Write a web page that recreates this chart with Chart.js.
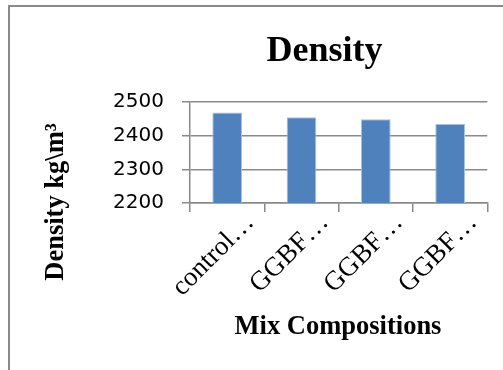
<!DOCTYPE html>
<html>
<head>
<meta charset="utf-8">
<script src="https://cdn.jsdelivr.net/npm/chart.js@4.4.1/dist/chart.umd.min.js"></script>
<style>
  html, body { margin: 0; padding: 0; background: #fff; }
  #wrap { width: 503px; height: 370px; position: relative; }
</style>
</head>
<body>
<div id="wrap"><canvas id="densityChart" width="503" height="370"></canvas></div>
<script>
// data
const mixLabels = ["control…", "GGBF…", "GGBF…", "GGBF…"];
const densityValues = [2469, 2455, 2449, 2435];
const yMin = 2200;
const yMax = 2500;
const yStep = 100;

const chartTitle = "Density";
const yTitle = "Density kg\\m³";
const xTitle = "Mix Compositions";

const gridGray = "#8a8a8a";
const serif = "'Liberation Serif', 'Times New Roman', serif";

// frame + titles drawn at fixed spots like the excel export
const textPlugin = {
    id: "excelText",
    afterDraw(chart) {
        const ctx = chart.ctx;
        ctx.save();
        ctx.strokeStyle = gridGray;
        ctx.lineWidth = 2;
        ctx.beginPath();
        ctx.moveTo(9, 370);
        ctx.lineTo(9, 6);
        ctx.lineTo(503, 6);
        ctx.stroke();

        ctx.fillStyle = "#000";
        ctx.textAlign = "center";
        ctx.textBaseline = "alphabetic";
        ctx.font = "bold 36px " + serif;
        ctx.fillText(chartTitle, 324.5, 61);

        ctx.font = "bold 26.5px " + serif;
        ctx.fillText(xTitle, 338, 334);

        ctx.translate(63, 202);
        ctx.rotate(-Math.PI / 2);
        ctx.fillText(yTitle, 0, 0);
        ctx.restore();
    }
};

new Chart(document.getElementById("densityChart"), {
    type: "bar",
    data: {
        labels: mixLabels,
        datasets: [{
            label: "Density",
            data: densityValues,
            backgroundColor: "#4f81bd",
            borderColor: "#a9c0de",
            borderWidth: 1,
            barPercentage: 0.4,
            categoryPercentage: 1
        }]
    },
    options: {
        responsive: false,
        animation: false,
        layout: {
            padding: { top: 102, right: 15.7, bottom: 0, left: 0 }
        },
        plugins: {
            legend: { display: false },
            title: { display: false },
            tooltip: { enabled: false }
        },
        scales: {
            x: {
                afterFit: (scale) => { scale.height = 167; },
                grid: {
                    drawOnChartArea: false,
                    drawTicks: true,
                    tickLength: 9,
                    color: gridGray,
                    lineWidth: 1.5
                },
                border: { color: gridGray, width: 1.5 },
                ticks: {
                    minRotation: 45,
                    maxRotation: 45,
                    autoSkip: false,
                    padding: -5,
                    labelOffset: 23,
                    color: "#000",
                    font: { family: serif, size: 27 }
                }
            },
            y: {
                min: yMin,
                max: yMax,
                afterFit: (scale) => { scale.width = 190; },
                grid: {
                    color: gridGray,
                    lineWidth: 1.5,
                    tickLength: 8
                },
                border: { color: gridGray, width: 1.5 },
                ticks: {
                    stepSize: yStep,
                    padding: 18,
                    color: "#000",
                    font: { family: "'DejaVu Sans', sans-serif", size: 20 },
                    callback: (v) => String(v)
                }
            }
        }
    },
    plugins: [textPlugin]
});
</script>
</body>
</html>
